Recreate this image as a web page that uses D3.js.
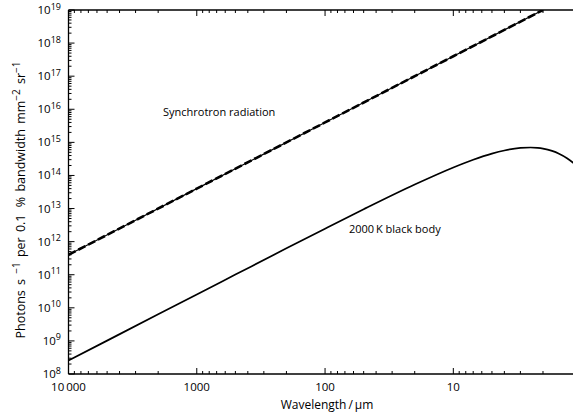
<!DOCTYPE html>
<html>
<head>
<meta charset="utf-8">
<script src="https://cdn.jsdelivr.net/npm/d3@7"></script>
<style>
  html, body { margin: 0; padding: 0; background: #fff; }
  svg { display: block; font-family: "Open Sans", "DejaVu Sans", sans-serif; }
</style>
</head>
<body>
<svg id="chart" width="573" height="418"></svg>
<script>
// Wavelength (µm) and photon flux for the two sources
const synchrotronWavelength = [10000, 1000, 100, 10, 2];
const synchrotronFlux = [4e11, 4e13, 4e15, 4e17, 1e19];

const blackBodyWavelength = [10000, 5000, 2000, 1000, 500, 200, 100, 50, 20, 10, 7, 5, 4, 3, 2.5, 2.2, 2, 1.7, 1.5, 1.3, 1.17, 1];
const blackBodyFlux = [2.55e8, 1.02e9, 6.37e9, 2.54e10, 1.01e11, 6.26e11, 2.46e12, 9.49e12, 5.30e13, 1.74e14, 2.98e14, 4.57e14, 5.69e14, 6.80e14, 7.00e14, 6.81e14, 6.47e14, 5.51e14, 4.53e14, 3.31e14, 2.45e14, 1.38e14];

// Axis ticks
const xMajorTicks = [10000, 1000, 100, 10];
const xTickLabels = ["10\u2009000", "1000", "100", "10"];
const yExponents = [8, 9, 10, 11, 12, 13, 14, 15, 16, 17, 18, 19];

const svg = d3.select("#chart");
const plotLeft = 68.5, plotRight = 581.6, plotTop = 10, plotBottom = 374;

const x = d3.scaleLog().domain([10000, 1]).range([plotLeft, plotRight]);
const y = d3.scaleLog().domain([1e8, 1e19]).range([plotBottom, plotTop]);

// minor ticks: 2..9 × each decade
const xMinor = [];
[1000, 100, 10, 1].forEach(d => { for (let k = 2; k <= 9; k++) xMinor.push(d * k); });
const yMinor = [];
for (let e = 8; e < 19; e++) for (let k = 2; k <= 9; k++) yMinor.push(k * Math.pow(10, e));

const axisG = svg.append("g").attr("stroke", "#000").attr("fill", "none");

// frame lines
axisG.append("line").attr("x1", plotLeft).attr("x2", plotRight).attr("y1", plotBottom).attr("y2", plotBottom).attr("stroke-width", 1.3);
axisG.append("line").attr("x1", plotLeft).attr("x2", plotRight).attr("y1", plotTop).attr("y2", plotTop).attr("stroke-width", 1.3);
axisG.append("line").attr("x1", plotLeft).attr("x2", plotLeft).attr("y1", plotTop).attr("y2", plotBottom).attr("stroke-width", 1.3);

// x ticks, pointing inward on bottom and top
const xAll = xMajorTicks.map(v => ({v, len: 6})).concat(xMinor.map(v => ({v, len: 3})));
xAll.forEach(t => {
  const px = x(t.v);
  axisG.append("line").attr("x1", px).attr("x2", px).attr("y1", plotBottom).attr("y2", plotBottom - t.len).attr("stroke-width", 1);
  axisG.append("line").attr("x1", px).attr("x2", px).attr("y1", plotTop).attr("y2", plotTop + t.len).attr("stroke-width", 1);
});

// y ticks, pointing inward
const yAll = yExponents.map(e => ({v: Math.pow(10, e), len: 6})).concat(yMinor.map(v => ({v, len: 3})));
yAll.forEach(t => {
  const py = y(t.v);
  axisG.append("line").attr("x1", plotLeft).attr("x2", plotLeft + t.len).attr("y1", py).attr("y2", py).attr("stroke-width", 1);
});

// x tick labels
svg.append("g").selectAll("text").data(xMajorTicks).join("text")
  .attr("x", d => x(d)).attr("y", plotBottom + 17)
  .attr("text-anchor", "middle").attr("font-size", 11.5)
  .text((d, i) => xTickLabels[i]);

// y tick labels as powers of ten
const yl = svg.append("g").selectAll("text").data(yExponents).join("text")
  .attr("x", 61).attr("y", d => y(Math.pow(10, d)) + 4)
  .attr("text-anchor", "end").attr("font-size", 11.5);
yl.append("tspan").text("10");
yl.append("tspan").attr("dy", -4.5).attr("font-size", 9).text(d => d);

// axis titles
svg.append("text").attr("x", 327).attr("y", 409).attr("text-anchor", "middle").attr("font-size", 12)
  .text("Wavelength\u2009/\u2009µm");

const yt = svg.append("text").attr("transform", "translate(25,200) rotate(-90)")
  .attr("text-anchor", "middle").attr("font-size", 12.5).attr("word-spacing", 2);
yt.append("tspan").text("Photons s ");
yt.append("tspan").attr("dy", -5).attr("font-size", 10).text("\u22121");
yt.append("tspan").attr("dy", 5).text(" per 0.1 \u2009% bandwidth mm");
yt.append("tspan").attr("dy", -5).attr("font-size", 10).text("\u22122");
yt.append("tspan").attr("dy", 5).text(" sr");
yt.append("tspan").attr("dy", -5).attr("font-size", 10).text("\u22121");

// curves
svg.append("clipPath").attr("id", "plotClip")
  .append("rect").attr("x", plotLeft).attr("y", plotTop).attr("width", plotRight - plotLeft).attr("height", plotBottom - plotTop);

const line = d3.line().x(d => x(d[0])).y(d => y(d[1])).curve(d3.curveMonotoneX);
const plot = svg.append("g").attr("clip-path", "url(#plotClip)");

const bb = blackBodyWavelength.map((w, i) => [w, blackBodyFlux[i]]);
plot.append("path").attr("d", line(bb)).attr("fill", "none").attr("stroke", "#000").attr("stroke-width", 1.7);

const sr = synchrotronWavelength.map((w, i) => [w, synchrotronFlux[i]]);
plot.append("path").attr("d", line(sr)).attr("fill", "none").attr("stroke", "#000").attr("stroke-width", 1.2);
plot.append("path").attr("d", line(sr)).attr("fill", "none").attr("stroke", "#000").attr("stroke-width", 2.6)
  .attr("stroke-dasharray", "8,3");

// labels on curves
svg.append("text").attr("x", 163).attr("y", 116).attr("font-size", 11).text("Synchrotron radiation");
svg.append("text").attr("x", 349).attr("y", 233).attr("font-size", 11).text("2000\u2009K black body");
</script>
</body>
</html>
